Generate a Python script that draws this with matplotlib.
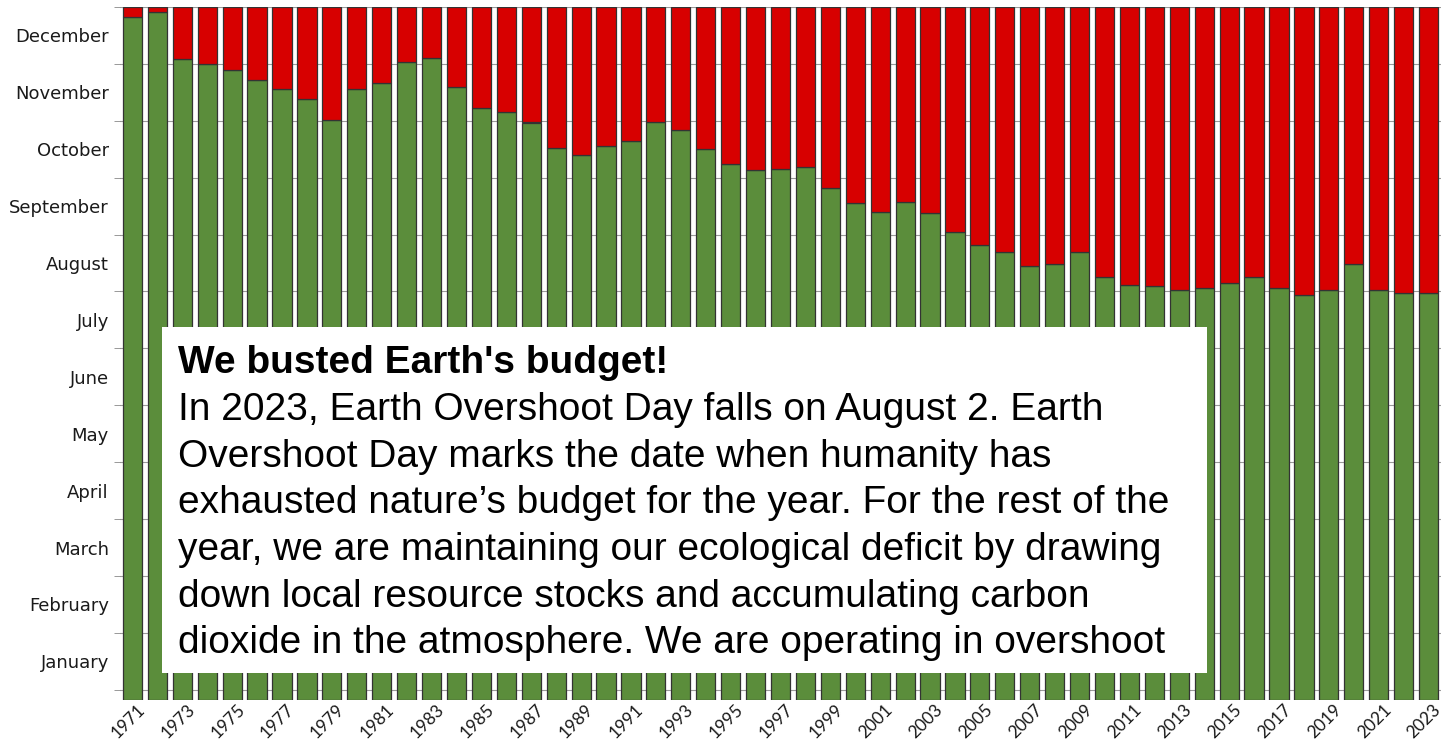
import numpy as np
import matplotlib.pyplot as plt
import matplotlib.transforms as mtransforms
from matplotlib.patches import Rectangle

# Earth Overshoot Day, expressed in months elapsed since Jan 1
years = np.arange(1971, 2024)
overshoot = np.array([11.82, 11.92, 11.08, 11.00, 10.90, 10.72, 10.56, 10.38, 10.02, 10.56,
                      10.67, 11.04, 11.11, 10.59, 10.23, 10.15, 9.97, 9.52, 9.40, 9.55,
                      9.64, 9.98, 9.84, 9.50, 9.24, 9.14, 9.15, 9.18, 8.82, 8.55,
                      8.39, 8.58, 8.38, 8.05, 7.82, 7.70, 7.44, 7.48, 7.69, 7.26,
                      7.12, 7.09, 7.02, 7.07, 7.15, 7.25, 7.06, 6.94, 7.02, 7.48,
                      7.02, 6.97, 6.97])
months = ['January', 'February', 'March', 'April', 'May', 'June', 'July',
          'August', 'September', 'October', 'November', 'December']

title = "We busted Earth's budget!"
body = ["In 2023, Earth Overshoot Day falls on August 2. Earth",
        "Overshoot Day marks the date when humanity has",
        "exhausted nature\u2019s budget for the year. For the rest of the",
        "year, we are maintaining our ecological deficit by drawing",
        "down local resource stocks and accumulating carbon",
        "dioxide in the atmosphere. We are operating in overshoot"]

green = '#5b8d3b'
red = '#d70000'
edge = '#333333'
base = -0.18

W, H = 1454, 754
fig = plt.figure(figsize=(W/100, H/100), dpi=100)
ax = fig.add_axes([120/W, (H-700)/H, 1321/W, 693/H])

ax.bar(years, overshoot - base, bottom=base, width=0.77, color=green,
       edgecolor=edge, linewidth=0.9, zorder=3)
ax.bar(years, 12 - overshoot, bottom=overshoot, width=0.77, color=red,
       edgecolor=edge, linewidth=0.9, zorder=3)

ax.set_xlim(1970.5, 2023.5)
ax.set_ylim(base, 12)

# month boundaries as grid + small ticks, labels centred in each month
ax.set_yticks(np.arange(13), minor=True)
ax.set_yticks(np.arange(12) + 0.5)
ax.set_yticklabels(months, fontsize=13, color='#1a1a1a', family='DejaVu Sans')
ax.tick_params(axis='y', which='major', length=0, pad=8)
ax.tick_params(axis='y', which='minor', length=4, color='#888888')
ax.grid(axis='y', which='minor', color='#9a9a9a', lw=0.8, zorder=0)

xt = years[::2]
ax.set_xticks(xt)
ax.set_xticklabels([str(y) for y in xt], rotation=45, ha='right', va='center',
                   rotation_mode='anchor', fontsize=12.5, color='#1a1a1a', family='Lato')
ax.tick_params(axis='x', length=0, pad=5)
offset = mtransforms.ScaledTranslation(10/100, 0, fig.dpi_scale_trans)
for lab in ax.get_xticklabels():
    lab.set_transform(lab.get_transform() + offset)

for s in ax.spines.values():
    s.set_visible(False)

# text panel
fig.patches.append(Rectangle((162/W, (H-673)/H), 1045/W, 346/H, transform=fig.transFigure,
                             facecolor='white', edgecolor='none', zorder=5))
fig.text(178/W, (H-373)/H, title, fontsize=28, weight='bold', family='Liberation Sans',
         va='baseline', zorder=6)
for i, line in enumerate(body):
    fig.text(178/W, (H-420-46.67*i)/H, line, fontsize=28, family='Liberation Sans',
             va='baseline', zorder=6)

fig.savefig('out.png', dpi=100)
